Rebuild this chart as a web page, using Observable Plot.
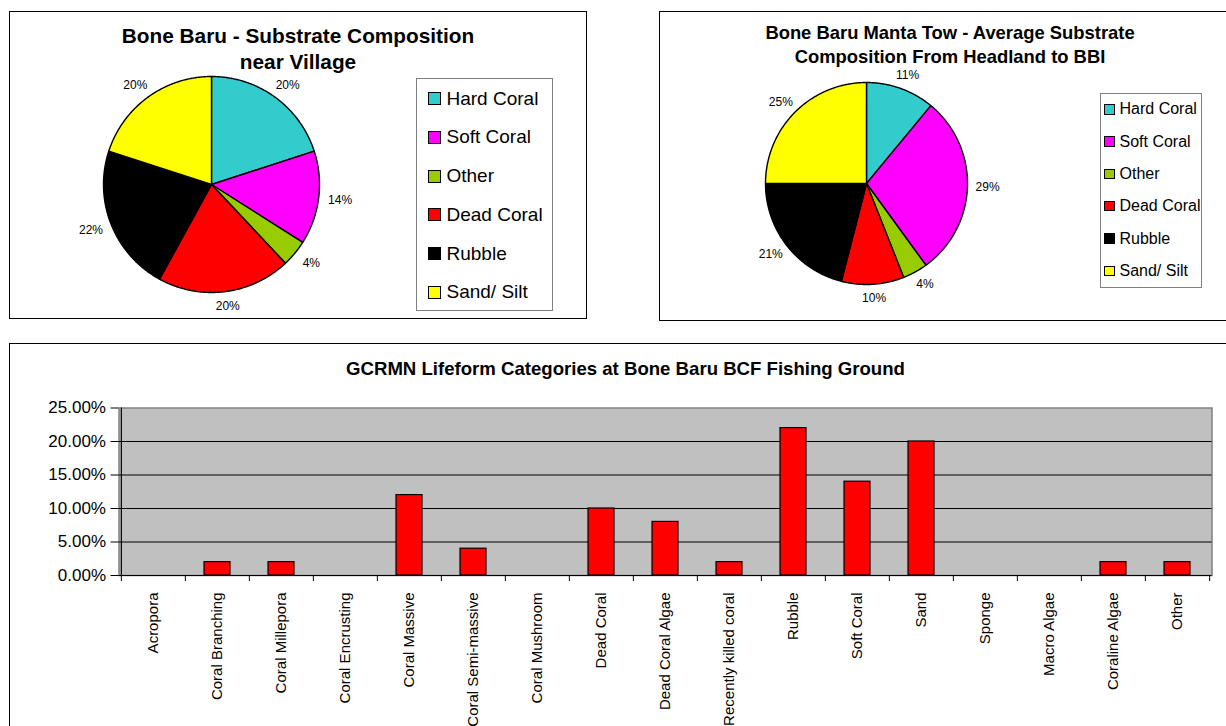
<!DOCTYPE html>
<html>
<head>
<meta charset="utf-8">
<script src="https://cdn.jsdelivr.net/npm/d3@7"></script>
<script src="https://cdn.jsdelivr.net/npm/@observablehq/plot@0.6"></script>
<style>
  html, body { margin: 0; padding: 0; background: #fff; }
  body { font-family: "Liberation Sans", Arial, sans-serif; color: #000; }
  #root { position: relative; width: 1226px; height: 726px; overflow: hidden; background: #fff; }
  .panel { position: absolute; border: 1.5px solid #000; box-sizing: border-box; background: #fff; }
  .title { position: absolute; font-weight: bold; text-align: center; white-space: nowrap; }
  .legend { position: absolute; border: 1.5px solid #808080; box-sizing: border-box; background: #fff; }
  .item { position: absolute; display: flex; align-items: center; white-space: nowrap; height: 24px; }
  .sw { border: 1px solid #000; box-sizing: border-box; flex: none; }
  .abs { position: absolute; }
</style>
</head>
<body>
<div id="root"></div>
<script>
// ---------------- data ----------------
const substrateCategories = ["Hard Coral", "Soft Coral", "Other", "Dead Coral", "Rubble", "Sand/ Silt"];
const substrateColors = ["#33CCCC", "#FF00FF", "#99CC00", "#FF0000", "#000000", "#FFFF00"];
const villageValues = [20, 14, 4, 20, 22, 20];
const mantaValues = [11, 29, 4, 10, 21, 25];

const lifeformCategories = [
  "Acropora", "Coral Branching", "Coral Millepora", "Coral Encrusting", "Coral Massive",
  "Coral Semi-massive", "Coral Mushroom", "Dead Coral", "Dead Coral Algae", "Recently killed coral",
  "Rubble", "Soft Coral", "Sand", "Sponge", "Macro Algae", "Coraline Algae", "Other"
];
const lifeformValues = [0, 2, 2, 0, 12, 4, 0, 10, 8, 2, 22, 14, 20, 0, 0, 2, 2];
const yTicks = [0, 5, 10, 15, 20, 25];

const titleVillage = ["Bone Baru - Substrate Composition", "near Village"];
const titleManta = ["Bone Baru Manta Tow - Average Substrate", "Composition From Headland to BBI"];
const titleLifeform = "GCRMN Lifeform Categories at Bone Baru BCF Fishing Ground";

// ---------------- helpers ----------------
const FONT = '"Liberation Sans", Arial, sans-serif';
const root = document.getElementById("root");

function el(cls, css, parent = root) {
  const d = document.createElement("div");
  if (cls) d.className = cls;
  Object.assign(d.style, css);
  parent.appendChild(d);
  return d;
}

function pieChart(values, {radius, size, labelFx, labelFy, fontSize}) {
  const arcs = d3.pie().sort(null)(values);
  const outline = [];
  const labels = [];
  arcs.forEach((a, i) => {
    const key = substrateCategories[i];
    outline.push({key, x: 0, y: 0});
    const n = Math.max(2, Math.ceil((a.endAngle - a.startAngle) / (Math.PI / 360)));
    for (let k = 0; k <= n; k++) {
      const t = a.startAngle + (a.endAngle - a.startAngle) * k / n;
      outline.push({key, x: Math.sin(t), y: Math.cos(t)});
    }
    outline.push({key, x: 0, y: 0});
    const m = (a.startAngle + a.endAngle) / 2;
    labels.push({x: labelFx * Math.sin(m), y: labelFy * Math.cos(m), text: values[i] + "%"});
  });
  const D = size / (2 * radius);
  return Plot.plot({
    width: size, height: size, margin: 0,
    x: {domain: [-D, D], axis: null},
    y: {domain: [-D, D], axis: null},
    color: {domain: substrateCategories, range: substrateColors},
    style: {background: "transparent", fontFamily: FONT, color: "#000", overflow: "visible"},
    marks: [
      Plot.line(outline, {x: "x", y: "y", z: "key", fill: "key", stroke: "#000", strokeWidth: 1.4, strokeLinejoin: "round"}),
      Plot.text(labels, {x: "x", y: "y", text: "text", fontSize, fill: "#000"})
    ]
  });
}

function legend(o) {
  const box = el("legend", {left: o.left + "px", top: o.top + "px", width: o.width + "px", height: o.height + "px"});
  substrateCategories.forEach((c, i) => {
    const it = el("item", {left: o.swLeft + "px", top: (o.first + i * o.spacing - 12) + "px", fontSize: o.fontSize + "px"}, box);
    const sw = document.createElement("div");
    sw.className = "sw";
    Object.assign(sw.style, {width: o.sw + "px", height: o.sw + "px", background: substrateColors[i], marginRight: o.gap + "px"});
    it.appendChild(sw);
    const t = document.createElement("span");
    t.textContent = c;
    it.appendChild(t);
  });
}

function titleLines(lines, {cx, top, fontSize, lineHeight}) {
  lines.forEach((s, i) => {
    const d = el("title", {left: (cx - 300) + "px", width: "600px", top: (top + i * lineHeight) + "px",
      fontSize: fontSize + "px", lineHeight: lineHeight + "px"});
    d.textContent = s;
  });
}

// ---------------- panels ----------------
el("panel", {left: "9px", top: "11px", width: "578px", height: "308px"});
el("panel", {left: "658.5px", top: "11px", width: "600px", height: "310px"});
el("panel", {left: "9px", top: "342.5px", width: "1240px", height: "400px"});

// ---------------- pie 1 ----------------
{
  const size = 330, r = 108, cx = 210.5, cy = 184;
  const svg = pieChart(villageValues, {radius: r, size, labelFx: 1.2, labelFy: 1.14, fontSize: 12});
  const wrap = el("abs", {left: (cx - size / 2) + "px", top: (cy - size / 2) + "px"});
  wrap.appendChild(svg);
  titleLines(titleVillage, {cx: 298, top: 23.3, fontSize: 20.8, lineHeight: 25.6});
  legend({left: 415.5, top: 78, width: 137.5, height: 233, first: 19.7, spacing: 38.7,
    swLeft: 11, sw: 13, gap: 6, fontSize: 19});
}

// ---------------- pie 2 ----------------
{
  const size = 310, r = 101, cx = 866.4, cy = 183;
  const svg = pieChart(mantaValues, {radius: r, size, labelFx: 1.2, labelFy: 1.14, fontSize: 12});
  const wrap = el("abs", {left: (cx - size / 2) + "px", top: (cy - size / 2) + "px"});
  wrap.appendChild(svg);
  titleLines(titleManta, {cx: 950, top: 21.4, fontSize: 18.4, lineHeight: 23.4});
  legend({left: 1100, top: 92.5, width: 102, height: 195.5, first: 15.8, spacing: 32.3,
    swLeft: 3, sw: 10.5, gap: 5, fontSize: 16});
}

// ---------------- bar chart ----------------
{
  titleLines([titleLifeform], {cx: 625.5, top: 357.5, fontSize: 18.6, lineHeight: 22});
  const W = 1216, H = 336, mL = 108.5, mR = 14.5, mT = 17.5, mB = 151;
  const step = (W - mL - mR) / lifeformCategories.length;
  const barData = lifeformCategories.map((c, i) => ({category: c, value: lifeformValues[i]}));
  const svg = Plot.plot({
    width: W, height: H, marginLeft: mL, marginRight: mR, marginTop: mT, marginBottom: mB,
    style: {background: "transparent", fontFamily: FONT, color: "#000", overflow: "visible"},
    x: {domain: lifeformCategories, paddingInner: 0.6, paddingOuter: 0.3, label: null},
    y: {domain: [0, 25], label: null},
    marks: [
      Plot.frame({fill: "#C0C0C0", stroke: "#808080", strokeWidth: 1.5}),
      Plot.ruleY(yTicks.filter(t => t > 0 && t < 25), {stroke: "#000", strokeWidth: 1}),
      Plot.barY(barData, {x: "category", y: "value", fill: "#FF0000", stroke: "#000", strokeWidth: 1.2}),
      Plot.ruleY([0], {stroke: "#000", strokeWidth: 1.2}),
      Plot.ruleX([lifeformCategories[0]], {x: d => d, y1: 0, y2: 25, dx: -step / 2, stroke: "#000", strokeWidth: 1.2}),
      Plot.ruleX(lifeformCategories, {x: d => d, y1: 0, y2: 0, insetBottom: -6, dx: -step / 2, stroke: "#000"}),
      Plot.ruleX([lifeformCategories[lifeformCategories.length - 1]], {x: d => d, y1: 0, y2: 0, insetBottom: -6, dx: step / 2, stroke: "#000"}),
      Plot.axisY({ticks: yTicks, tickFormat: d => d.toFixed(2) + "%", tickSize: 8, tickPadding: 5, fontSize: 17, label: null}),
      Plot.axisX({tickSize: 0, tickRotate: -90, tickPadding: 17, fontSize: 15, label: null})
    ]
  });
  const wrap = el("abs", {left: "10px", top: "390px"});
  wrap.appendChild(svg);
}
</script>
</body>
</html>
